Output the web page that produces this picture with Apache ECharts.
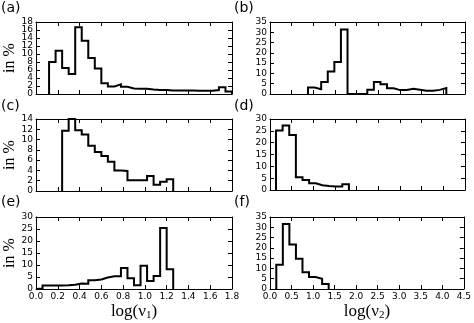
<!DOCTYPE html>
<html>
<head>
<meta charset="utf-8">
<script src="https://cdn.jsdelivr.net/npm/echarts@6/dist/echarts.min.js"></script>
<style>html,body{margin:0;padding:0;background:#fff}#c{width:474px;height:323px}</style>
</head>
<body>
<div id="c"></div>
<script>
// ---- data (histogram bin values in %) ----
const panelLabels = ['(a)', '(b)', '(c)', '(d)', '(e)', '(f)'];
const xTicksNu1 = ['0.0','0.2','0.4','0.6','0.8','1.0','1.2','1.4','1.6','1.8'];
const xTicksNu2 = ['0.0','0.5','1.0','1.5','2.0','2.5','3.0','3.5','4.0','4.5'];
const yTicksA = [0, 2, 4, 6, 8, 10, 12, 14, 16, 18];
const yTicksB = [0, 5, 10, 15, 20, 25, 30, 35];
const yTicksC = [0, 2, 4, 6, 8, 10, 12, 14];
const yTicksD = [0, 5, 10, 15, 20, 25, 30];
const yTicksE = [0, 5, 10, 15, 20, 25, 30];
const yTicksF = [0, 5, 10, 15, 20, 25, 30, 35];

// panel (a): log(nu1), bins start 0.12, width 0.06
const aStart = 0.12, aWidth = 0.06;
const aValues = [8.0, 10.8, 6.5, 5.0, 16.7, 13.3, 9.0, 6.4, 2.7, 1.9, 2.4, 1.8, 1.4, 1.3,
                 1.3, 1.1, 1.0, 1.0, 0.9, 0.9, 0.9, 0.9, 0.8, 0.8, 0.8, 1.0, 1.7, 0.6];
// panel (b): log(nu2)
const bStart = 0.877, bWidth = 0.152;
const bValues = [3.1, 2.3, 5.8, 10.9, 15.5, 31.3, 0, 0, 0, 2.1, 5.8, 4.8, 2.8, 1.9,
                 2.0, 2.6, 2.1, 1.6, 1.6, 2.0, 2.9];
// panel (c): log(nu1)
const cStart = 0.24, cWidth = 0.06;
const cValues = [11.7, 14.0, 11.8, 11.0, 8.8, 7.6, 6.8, 5.7, 4.0, 3.9, 2.1, 2.1, 2.1,
                 2.9, 1.2, 1.8, 2.3];
// panel (d): log(nu2)
const dStart = 0.138, dWidth = 0.153;
const dValues = [25.1, 27.3, 23.2, 5.4, 4.2, 2.8, 2.0, 1.7, 1.5, 1.5, 2.4];
// panel (e): log(nu1)
const eStart = 0.0, eWidth = 0.06;
const eValues = [0.2, 1.5, 1.5, 1.5, 1.6, 1.8, 2.3, 2.2, 3.6, 4.0, 4.8, 5.3, 5.3, 8.7,
                 4.5, 1.6, 9.7, 3.3, 5.4, 25.4, 8.2];
// panel (f): log(nu2)
const fStart = 0.146, fWidth = 0.152;
const fValues = [11.8, 31.6, 21.6, 14.7, 8.1, 5.8, 5.0, 2.4];

const yTicks = [yTicksA, yTicksB, yTicksC, yTicksD, yTicksE, yTicksF];

// ---- build ----
function stepPoints(start, width, vals) {
  const pts = [[start, 0]];
  vals.forEach((v, i) => {
    pts.push([start + i * width, v]);
    pts.push([start + (i + 1) * width, v]);
  });
  pts.push([start + vals.length * width, 0]);
  return pts;
}
const hist = [
  stepPoints(aStart, aWidth, aValues),
  stepPoints(bStart, bWidth, bValues),
  stepPoints(cStart, cWidth, cValues),
  stepPoints(dStart, dWidth, dValues),
  stepPoints(eStart, eWidth, eValues),
  stepPoints(fStart, fWidth, fValues)
];

const grids = [
  {left: 36, top: 22, width: 196, height: 72},
  {left: 270, top: 22, width: 195, height: 72},
  {left: 36, top: 119, width: 196, height: 72},
  {left: 270, top: 119, width: 195, height: 71},
  {left: 36, top: 217, width: 196, height: 72},
  {left: 270, top: 217, width: 195, height: 72}
];
const titlePos = [[1, 1], [234, 1], [1, 99], [234, 99], [1, 195], [234, 195]];

const sans = 'DejaVu Sans';
const serif = 'Liberation Serif';
const lineC = '#000';

const xAxes = [], yAxes = [], series = [], titles = [];
grids.forEach((g, i) => {
  const left = i % 2 === 0;
  const bottomRow = i >= 4;
  const xmax = left ? 1.8 : 4.5;
  const xint = left ? 0.2 : 0.5;
  const ticks = left ? xTicksNu1 : xTicksNu2;
  const common = {
    gridIndex: i, type: 'value', min: 0, max: xmax, interval: xint,
    axisLine: {show: true, onZero: false, lineStyle: {color: lineC, width: 1}},
    axisTick: {show: true, inside: true, length: 4, lineStyle: {color: lineC, width: 1}},
    splitLine: {show: false}
  };
  xAxes.push(Object.assign({}, common, {
    position: 'bottom',
    axisLabel: {
      show: bottomRow, margin: 3, fontFamily: sans, fontSize: 9, color: '#000',
      showMinLabel: true, showMaxLabel: true, hideOverlap: false,
      formatter: v => ticks[Math.round(v / xint)]
    },
    name: bottomRow ? (left ? '{t|log(ν}{s|1}{t|)}' : '{t|log(ν}{s|2}{t|)}') : '',
    nameLocation: 'middle', nameGap: 13,
    nameTextStyle: {
      rich: {
        t: {fontFamily: serif, fontSize: 17, color: '#000'},
        s: {fontFamily: serif, fontSize: 11, color: '#000', verticalAlign: 'bottom', padding: [8, 0, 0, 0]}
      }
    }
  }));
  xAxes.push(Object.assign({}, common, {position: 'top', axisLabel: {show: false}}));

  const yt = yTicks[i];
  const ymax = yt[yt.length - 1];
  const ystep = yt[1] - yt[0];
  const ycommon = {
    gridIndex: i, type: 'value', min: 0, max: ymax, interval: ystep,
    axisLine: {show: true, onZero: false, lineStyle: {color: lineC, width: 1}},
    axisTick: {show: true, inside: true, length: 4, lineStyle: {color: lineC, width: 1}},
    splitLine: {show: false}
  };
  const labelStyle = {show: true, margin: 3, fontFamily: sans, fontSize: 9, color: '#000',
                      showMinLabel: true, showMaxLabel: true, hideOverlap: false};
  // main left axis (ticks + even-indexed labels)
  yAxes.push(Object.assign({}, ycommon, {
    position: 'left', offset: 0,
    axisLabel: Object.assign({}, labelStyle, {customValues: yt.filter((v, k) => k % 2 === 0)}),
    name: left ? 'in %' : '', nameLocation: 'middle', nameGap: 18, nameRotate: 90,
    nameTextStyle: {fontFamily: serif, fontSize: 16, color: '#000'}
  }));
  // right axis (ticks only)
  yAxes.push(Object.assign({}, ycommon, {position: 'right', offset: 0, axisLabel: {show: false}}));
  // second left axis (odd-indexed labels only)
  yAxes.push(Object.assign({}, ycommon, {
    position: 'left', offset: 0,
    axisLine: {show: false}, axisTick: {show: false},
    axisLabel: Object.assign({}, labelStyle, {customValues: yt.filter((v, k) => k % 2 === 1)})
  }));

  series.push({
    type: 'line', xAxisIndex: 2 * i, yAxisIndex: 3 * i,
    data: hist[i], symbol: 'none', silent: true,
    lineStyle: {color: '#000', width: 2, join: 'miter'}
  });
  titles.push({
    text: panelLabels[i], left: titlePos[i][0], top: titlePos[i][1], padding: 0,
    textStyle: {fontFamily: sans, fontSize: 14, fontWeight: 'normal', color: '#000'}
  });
});

const chart = echarts.init(document.getElementById('c'), null, {renderer: 'canvas'});
chart.setOption({
  animation: false,
  backgroundColor: '#fff',
  title: titles,
  grid: grids,
  xAxis: xAxes,
  yAxis: yAxes,
  series: series
});
</script>
</body>
</html>
